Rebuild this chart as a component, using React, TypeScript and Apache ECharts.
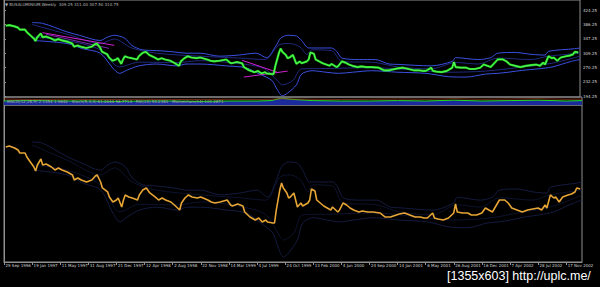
import React, { useEffect, useRef } from 'react';
import * as echarts from 'echarts';

// ---- x axis (weekly bars, label every 16 bars) ----
const dateLabels = [
  '29 Sep 1996', '19 Jan 1997', '11 May 1997', '31 Aug 1997', '21 Dec 1997',
  '12 Apr 1998', '2 Aug 1998', '22 Nov 1998', '14 Mar 1999', '4 Jul 1999',
  '24 Oct 1999', '13 Feb 2000', '4 Jun 2000', '24 Sep 2000', '14 Jan 2001',
  '6 May 2001', '26 Aug 2001', '16 Dec 2001', '7 Apr 2002', '28 Jul 2002',
  '17 Nov 2002',
];
const labelStep = 16;
const labelWeeks = dateLabels.map((_, i) => i * labelStep);
const lastWeek = 329;

// ---- price axis tick labels ----
const priceTicks = [424.25, 386.25, 347.25, 309.25, 270.25, 232.25, 194.25];

// ---- close prices (week index, value) ----
const weeks = [
  1, 3, 6, 8, 9, 12, 13, 15, 17, 18, 19, 21, 22, 24, 27, 29, 31, 33, 36, 39,
  40, 42, 44, 47, 50, 52, 53, 55, 56, 59, 60, 62, 64, 65, 67, 68, 69, 71, 73, 76,
  77, 79, 81, 83, 86, 88, 90, 92, 95, 97, 100, 101, 103, 105, 107, 110, 112, 116, 118, 120,
  123, 127, 129, 130, 133, 136, 137, 140, 143, 145, 147, 149, 150, 153, 154, 155, 157, 158, 159, 161,
  162, 163, 165, 167, 169, 170, 173, 174, 175, 177, 178, 180, 182, 184, 186, 187, 190, 191, 193, 195,
  197, 199, 202, 204, 207, 210, 214, 217, 220, 225, 228, 231, 234, 237, 239, 241, 244, 245, 247, 250,
  253, 256, 257, 258, 261, 264, 266, 269, 272, 274, 276, 278, 281, 282, 285, 287, 289, 292, 295, 298,
  301, 304, 306, 308, 309, 311, 313, 314, 316, 318, 321, 323, 325, 326, 328,
];
const closes = [
  382.6, 384.3, 380.9, 377.5, 372.4, 372.4, 365.5, 357.0, 348.5, 341.7, 351.9, 362.1, 351.9, 353.6, 348.5, 343.4, 346.8, 343.4, 340.0, 334.9,
  326.3, 329.7, 326.3, 322.9, 326.3, 333.2, 334.9, 322.9, 312.7, 305.9, 297.4, 288.8, 292.2, 295.6, 280.3, 292.2, 300.8, 297.4, 295.6, 292.2,
  300.8, 309.3, 312.7, 304.2, 297.4, 292.2, 295.6, 292.2, 288.8, 283.7, 275.2, 287.1, 295.6, 300.8, 297.4, 295.6, 297.4, 292.2, 288.8, 287.1,
  288.8, 292.2, 283.7, 282.0, 285.4, 282.0, 271.8, 263.2, 258.1, 261.5, 254.7, 258.1, 254.7, 253.0, 253.0, 275.2, 309.3, 321.2, 312.7, 304.2,
  295.6, 297.4, 304.2, 280.3, 287.1, 282.0, 287.1, 292.2, 311.0, 307.6, 292.2, 287.1, 282.0, 278.6, 275.2, 280.3, 271.8, 275.2, 287.1, 283.7,
  278.6, 275.2, 271.8, 273.5, 271.8, 271.8, 270.1, 263.2, 263.2, 268.4, 270.1, 266.7, 263.2, 263.2, 261.5, 261.5, 270.1, 261.5, 259.8, 258.1,
  261.5, 270.1, 285.4, 271.8, 270.1, 270.1, 266.7, 266.7, 270.1, 278.6, 275.2, 271.8, 287.1, 292.2, 292.2, 287.1, 278.6, 275.2, 271.8, 275.2,
  276.9, 278.6, 275.2, 283.7, 278.6, 300.8, 295.6, 297.4, 288.8, 297.4, 300.8, 302.5, 305.9, 312.7, 311.0,
];

// ---- envelope bands ----
const outerUpperWeeks = [16, 22, 36, 43, 55, 59, 63, 69, 73, 79, 87, 96, 104, 112, 123, 134, 144, 150, 155, 158, 162, 167, 170, 174, 178, 187, 190, 193, 203, 212, 220, 225, 244, 256, 258, 271, 278, 282, 292, 301, 309, 311, 326, 329];
const outerUpper = [391, 389, 366, 357, 343, 352, 357, 349, 330, 318, 316, 313, 309, 309, 301, 304, 309, 297, 326, 349, 357, 355, 343, 323, 323, 323, 314, 296, 292, 292, 280, 279, 275, 287, 297, 292, 297, 309, 311, 306, 304, 314, 321, 323];
const outerLowerWeeks = [17, 36, 45, 55, 62, 66, 70, 77, 87, 99, 104, 112, 127, 138, 146, 153, 156, 159, 162, 167, 170, 176, 184, 191, 199, 210, 225, 241, 254, 264, 275, 282, 288, 296, 305, 313, 324, 329];
const outerLower = [343, 335, 321, 309, 270, 255, 263, 275, 280, 275, 280, 280, 275, 270, 253, 236, 212, 195, 202, 224, 253, 262, 258, 255, 258, 262, 258, 255, 246, 245, 253, 255, 258, 263, 267, 272, 287, 292];
const innerUpperWeeks = [16, 36, 55, 63, 73, 87, 112, 134, 149, 157, 163, 169, 173, 176, 187, 193, 212, 225, 244, 258, 271, 282, 301, 311, 329];
const innerUpper = [386, 360, 335, 347, 323, 309, 301, 296, 292, 331, 335, 326, 306, 318, 316, 287, 284, 272, 267, 284, 280, 296, 292, 301, 309];
const innerLowerWeeks = [17, 36, 55, 66, 77, 99, 112, 138, 149, 156, 159, 165, 170, 184, 210, 225, 254, 275, 296, 313, 329];
const innerLower = [352, 343, 318, 272, 285, 284, 289, 279, 267, 236, 224, 236, 267, 268, 270, 267, 258, 261, 272, 282, 301];

// ---- trend lines (start week, start price, end week, end price) ----
const trendLines = [
  [22, 364, 63, 330],
  [24, 360, 60, 322],
  [136, 290, 156, 258],
  [137, 245, 162, 261],
];

// ---- squeezed indicator strip ----
const stripWeeks = [0, 16, 32, 48, 64, 80, 96, 112, 128, 144, 152, 158, 164, 176, 192, 208, 224, 240, 256, 272, 288, 304, 320, 329];
const stripMain = [0.5, 0.55, 0.5, 0.5, 0.45, 0.5, 0.5, 0.45, 0.5, 0.5, 0.55, 0.85, 0.7, 0.55, 0.5, 0.5, 0.55, 0.5, 0.6, 0.5, 0.55, 0.6, 0.5, 0.55];
const stripSignal = [0.75, 0.7, 0.72, 0.7, 0.7, 0.72, 0.7, 0.7, 0.72, 0.7, 0.72, 0.78, 0.75, 0.72, 0.7, 0.72, 0.75, 0.72, 0.78, 0.72, 0.75, 0.78, 0.72, 0.75];

const zip = (w: number[], v: number[]) => w.map((x, i) => [x, v[i]]);

const grey = '#8f8f8f';

export default function App() {
  const ref = useRef<HTMLDivElement>(null);

  useEffect(() => {
    document.body.style.margin = '0';
    document.body.style.background = '#000';
    if (!ref.current) return;
    const chart = echarts.init(ref.current, undefined, { renderer: 'svg' });

    const line = (name: string, data: number[][], idx: number, color: string, width: number, smooth: number | boolean = false, z = 2) => ({
      name,
      type: 'line',
      xAxisIndex: idx,
      yAxisIndex: idx,
      data,
      symbol: 'none',
      smooth,
      z,
      lineStyle: { color, width },
      silent: true,
    });

    const series: any[] = [];
    // top panel
    series.push(line('ou0', zip(outerUpperWeeks, outerUpper), 0, '#3a50e0', 1, 0.3));
    series.push(line('ol0', zip(outerLowerWeeks, outerLower), 0, '#3a50e0', 1, 0.3));
    series.push(line('iu0', zip(innerUpperWeeks, innerUpper), 0, '#28349a', 0.8, 0.3));
    series.push(line('il0', zip(innerLowerWeeks, innerLower), 0, '#28349a', 0.8, 0.3));
    trendLines.forEach((t, i) => {
      series.push(line('tl' + i, [[t[0], t[1]], [t[2], t[3]]], 0, i === 1 ? '#7a2aa8' : '#d020d0', 1));
    });
    series.push(line('price0', zip(weeks, closes), 0, '#1ee01e', 2.2, false, 5));
    series.push(line('price0b', zip(weeks, closes), 0, '#9dff9d', 0.5, false, 6));

    // strip
    series.push({
      ...line('stripMain', zip(stripWeeks, stripMain), 1, '#22e022', 1),
      areaStyle: { color: '#1b2b9c', opacity: 1 },
    });
    series.push(line('stripSig', zip(stripWeeks, stripSignal), 1, '#a03a20', 0.8));

    // bottom panel
    series.push(line('ou2', zip(outerUpperWeeks, outerUpper), 2, '#19224e', 0.8, 0.3));
    series.push(line('ol2', zip(outerLowerWeeks, outerLower), 2, '#19224e', 0.8, 0.3));
    series.push(line('iu2', zip(innerUpperWeeks, innerUpper), 2, '#141b40', 0.7, 0.3));
    series.push(line('il2', zip(innerLowerWeeks, innerLower), 2, '#141b40', 0.7, 0.3));
    series.push(line('price2', zip(weeks, closes), 2, '#e6a535', 1.6, false, 5));

    const gridBase = { left: 4, right: 18, show: true, borderColor: grey, borderWidth: 1, backgroundColor: 'transparent' };

    chart.setOption({
      animation: false,
      backgroundColor: '#000',
      grid: [
        { ...gridBase, top: -1, height: 98 },
        { ...gridBase, top: 97, height: 8 },
        { ...gridBase, top: 105, height: 157 },
      ],
      xAxis: [0, 1, 2].map((i) => ({
        type: 'value',
        gridIndex: i,
        min: 0,
        max: lastWeek,
        splitLine: { show: false },
        axisLine: { show: i === 2, lineStyle: { color: grey } },
        axisTick: {
          show: i === 2,
          customValues: labelWeeks,
          length: 3,
          lineStyle: { color: grey },
        },
        axisLabel: {
          show: i === 2,
          customValues: labelWeeks,
          formatter: (v: number) => dateLabels[Math.round(v / labelStep)] ?? '',
          fontSize: 4,
          fontFamily: 'DejaVu Sans',
          color: '#d0d0d0',
          align: 'left',
          margin: 1.5,
          padding: [0, 0, 0, 1.5],
        },
      })),
      yAxis: [
        {
          type: 'value',
          gridIndex: 0,
          position: 'right',
          min: 191.6,
          max: 451.6,
          splitLine: { show: false },
          axisLine: { show: true, lineStyle: { color: grey } },
          axisTick: { show: true, customValues: priceTicks, length: 2, lineStyle: { color: grey } },
          axisLabel: {
            customValues: priceTicks,
            formatter: (v: number) => v.toFixed(2),
            fontSize: 4,
            fontFamily: 'DejaVu Sans',
            color: '#d8d8d8',
            margin: 3,
          },
        },
        {
          type: 'value',
          gridIndex: 1,
          position: 'right',
          min: 0,
          max: 1,
          splitLine: { show: false },
          axisLine: { show: true, lineStyle: { color: grey } },
          axisTick: { show: false },
          axisLabel: { show: false },
        },
        {
          type: 'value',
          gridIndex: 2,
          position: 'right',
          min: 186.5,
          max: 454.2,
          splitLine: { show: false },
          axisLine: { show: true, lineStyle: { color: grey } },
          axisTick: { show: false },
          axisLabel: { show: false },
        },
      ],
      series,
      graphic: [
        {
          type: 'text',
          left: 5,
          top: 2,
          silent: true,
          style: {
            text: '▼ BUSALUMINIUM,Weekly  309.25 311.00 307.50 310.75',
            fontSize: 4,
            fontFamily: 'DejaVu Sans',
            fill: '#b8b8b8',
          },
        },
        {
          type: 'text',
          left: 7,
          top: 99,
          silent: true,
          z: 100,
          style: {
            text: 'MACD(12,26,9) 2.1354 1.9842   Stoch(5,3,3) 61.2044 58.7713   RSI(14) 54.2381   Momentum(14) 101.2871',
            fontSize: 4,
            fontFamily: 'DejaVu Sans',
            fill: '#b0b0b0',
          },
        },
        {
          type: 'text',
          left: 447,
          top: 269,
          silent: true,
          style: {
            text: '[1355x603] http://uplc.me/',
            fontSize: 12.5,
            fontFamily: 'Liberation Sans',
            fill: '#ffffff',
          },
        },
      ],
    });

    return () => chart.dispose();
  }, []);

  return (
    <div
      ref={ref}
      style={{ position: 'fixed', left: 0, top: 0, width: 600, height: 287, background: '#000' }}
    />
  );
}
